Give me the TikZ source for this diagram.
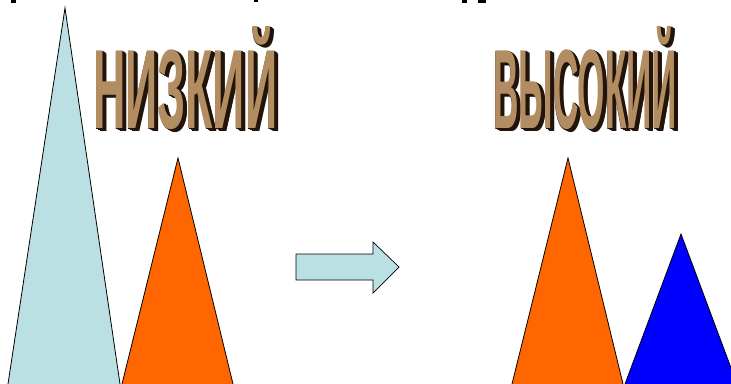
\documentclass[tikz,border=0pt]{standalone}
\usepackage{fontspec}
\setmainfont{Liberation Sans}
\usetikzlibrary{calc}
\definecolor{lightblue}{HTML}{BBE0E3}
\definecolor{orng}{HTML}{FF6600}
\definecolor{blu}{HTML}{0000FF}
\definecolor{tan}{HTML}{B38D62}
\definecolor{darkbrown}{HTML}{22140A}
\tikzset{
  tri/.style={draw=black, line width=0.8pt, line join=miter},
  wordfront/.style={inner sep=0pt, anchor=south west, text=tan},
  wordback/.style={inner sep=0pt, anchor=south west, text=darkbrown},
}
\newcommand{\lowword}{\resizebox{184pt}{102pt}{\bfseries НИЗКИЙ}}
\newcommand{\highword}{\resizebox{184pt}{102pt}{\bfseries ВЫСОКИЙ}}
\begin{document}
\begin{tikzpicture}[x=1pt,y=-1pt]
\useasboundingbox (0,0) rectangle (731,383);
\fill[white] (0,0) rectangle (731,383);
% tiny cut-off fragments at the top
\fill[black] (11,0) rectangle (16,2.5);
\fill[black] (254,0) rectangle (258,2);
\fill[black] (462,0) rectangle (467,2.5);
\fill[black] (478,0) rectangle (486,3);
% words with extrusion
\foreach \d in {4,3.5,3,2.5,2,1.5,1,0.5}{
  \node[wordback] at ($(93,130)+(\d,0.6*\d)$) {\lowword};
  \node[wordback] at ($(493,130)+(\d,0.6*\d)$) {\highword};
}
\node[wordfront] (low) at (93,130) {\lowword};
\node[wordfront] (high) at (493,130) {\highword};
% left triangles
\coordinate (t1a) at (65,8);
\draw[tri, fill=lightblue] (8,384) -- (t1a) -- (120,384);
\draw[tri, fill=orng] (122,384) -- (178,158) -- (233,384);
% arrow
\draw[tri, line width=0.7pt, fill=lightblue] (296,254) -- (373,254) -- (373,242) -- (399,267) -- (373,293) -- (373,280) -- (296,280) -- cycle;
% right triangles
\draw[tri, fill=orng] (512,384) -- (568,158) -- (623,384);
\begin{scope}
\clip (0,0) rectangle (731,383);
\draw[tri, fill=blu] (625,384) -- (681,234) -- (737,384);
\end{scope}
\end{tikzpicture}
\end{document}
